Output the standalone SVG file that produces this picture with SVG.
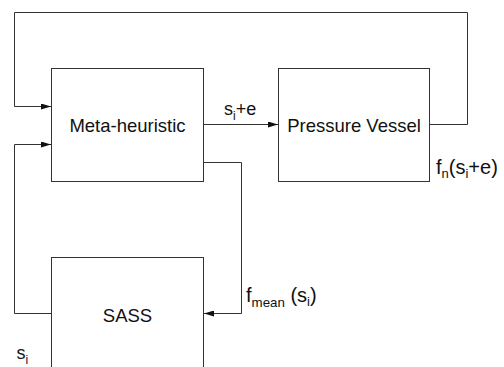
<svg xmlns="http://www.w3.org/2000/svg" width="504" height="367" viewBox="0 0 504 367">
<style>
.box{fill:#fff;stroke:#333;stroke-width:1}
.ln{fill:none;stroke:#333;stroke-width:1}
text{font-family:"Liberation Sans",Arial,sans-serif;fill:#111}
.t{font-size:18.5px;text-anchor:middle}
</style>
<defs>
<marker id="ah" viewBox="0 0 10 6" refX="10" refY="3" markerWidth="10" markerHeight="6" markerUnits="userSpaceOnUse" orient="auto">
<path d="M0,0 L10,3 L0,6 Z" fill="#111"/>
</marker>
</defs>
<g id="meta"><rect class="box" x="51.5" y="68.5" width="152" height="113"/><text class="t" x="127.5" y="131.5">Meta-heuristic</text></g>
<g id="pv"><rect class="box" x="278.5" y="68.5" width="151" height="113"/><text class="t" x="354" y="131.5">Pressure Vessel</text></g>
<g id="sass"><rect class="box" x="51.5" y="257.5" width="152" height="120"/><text class="t" x="127.5" y="321.5">SASS</text></g>
<g id="connectors">
<path class="ln" d="M203.5,124.5 H278" marker-end="url(#ah)"/>
<path class="ln" d="M429.5,124.5 H467.5 V12.5 H14.5 V106.5 H51" marker-end="url(#ah)"/>
<path class="ln" d="M203.5,162.5 H241.5 V313.5 H204" marker-end="url(#ah)"/>
<path class="ln" d="M51.5,313.5 H14.5 V144.5 H51" marker-end="url(#ah)"/>
</g>
<g id="labels">
<text x="224" y="114.5" font-size="18">s<tspan font-size="12" dy="5">i</tspan><tspan dy="-5">+e</tspan></text>
<text x="436" y="174" font-size="20">f<tspan font-size="13" dy="4">n</tspan><tspan dy="-4">(s</tspan><tspan font-size="13" dy="4">i</tspan><tspan dy="-4">+e)</tspan></text>
<text x="246" y="302" font-size="20">f<tspan font-size="13.3" dy="4.5">mean</tspan><tspan dy="-4.5"> (s</tspan><tspan font-size="13" dy="4">i</tspan><tspan dy="-4">)</tspan></text>
<text x="16.5" y="358.5" font-size="18">s<tspan font-size="12" dy="5">i</tspan></text>
</g>
</svg>
